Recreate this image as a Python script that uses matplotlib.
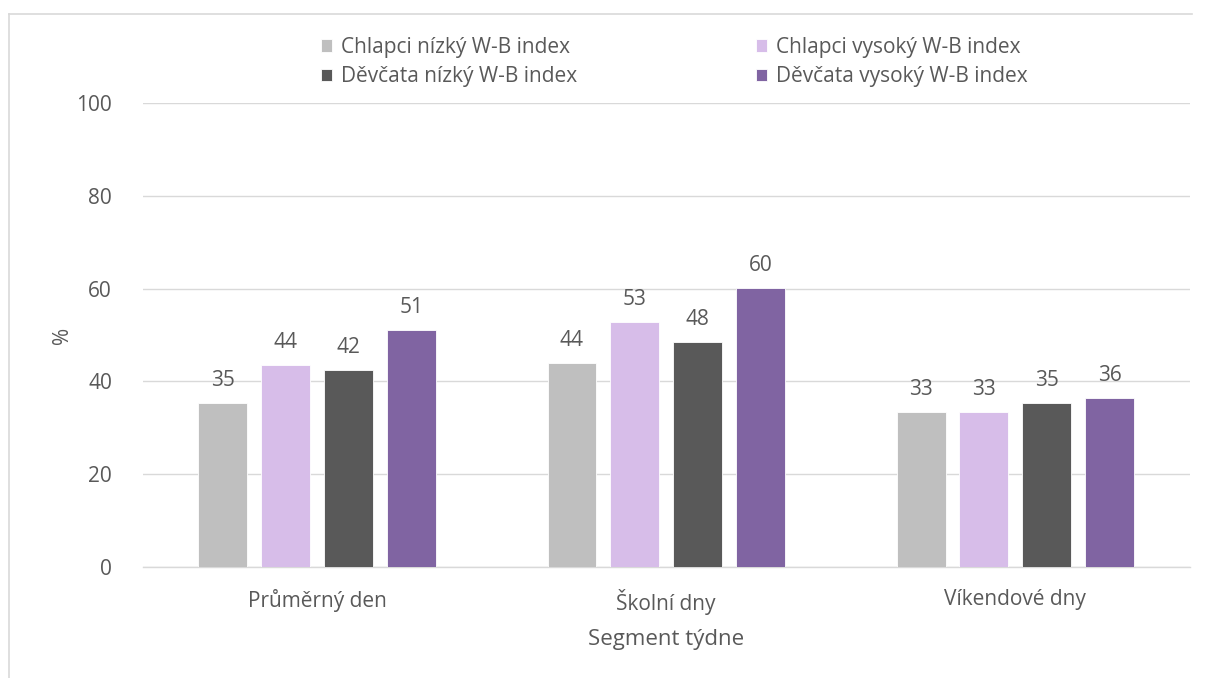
import matplotlib
matplotlib.use("Agg")
import matplotlib.pyplot as plt
import numpy as np

plt.rcParams["font.family"] = ["Open Sans", "DejaVu Sans"]

categories = ["Průměrný den", "Školní dny", "Víkendové dny"]
series_names = [
    "Chlapci nízký W-B index",
    "Chlapci vysoký W-B index",
    "Děvčata nízký W-B index",
    "Děvčata vysoký W-B index",
]
chl_nizky = [35.3, 44.0, 33.4]
chl_vysoky = [43.5, 52.8, 33.4]
dev_nizky = [42.4, 48.5, 35.3]
dev_vysoky = [51.1, 60.1, 36.4]
colors = ["#BFBFBF", "#D7BDE9", "#595959", "#8064A2"]

series = [chl_nizky, chl_vysoky, dev_nizky, dev_vysoky]
text_col = "#595959"
grid_col = "#D9D9D9"

fig = plt.figure(figsize=(12.08, 6.78), dpi=100)
ax = fig.add_axes([0.118, 0.1637, 0.867, 0.6843])

x = np.arange(len(categories))
width = 0.14
step = 0.18
handles = []
for i, (vals, name, col) in enumerate(zip(series, series_names, colors)):
    pos = x + (i - 1.5) * step
    bars = ax.bar(pos, vals, width, color=col, label=name, zorder=3,
                  edgecolor="white", linewidth=0.6)
    handles.append(bars)
    for p, v in zip(pos, vals):
        ax.text(p, v + 2.6, f"{v:.0f}", ha="center", va="bottom",
                fontsize=15, color=text_col)

ax.set_xlim(-0.5, 2.5)
ax.set_ylim(0, 100)
ax.set_yticks(range(0, 101, 20))
ax.set_xticks(x)
ax.set_xticklabels(categories)
ax.tick_params(axis="both", length=0, labelsize=15, labelcolor=text_col)
ax.tick_params(axis="x", pad=16)
ax.tick_params(axis="y", pad=22)
ax.grid(axis="y", color=grid_col, linewidth=1, zorder=0)
for s in ["top", "right", "left"]:
    ax.spines[s].set_visible(False)
ax.spines["bottom"].set_color(grid_col)
ax.spines["bottom"].set_linewidth(1)

ax.set_ylabel("%", fontsize=15, color=text_col, labelpad=2)
ax.set_xlabel("Segment týdne", fontsize=16, color=text_col, labelpad=10)

# legend: row-wise order in 2 columns
order = [0, 2, 1, 3]
leg = fig.legend([handles[i] for i in order], [series_names[i] for i in order],
                 ncol=2, loc="center", bbox_to_anchor=(0.558, 0.9085),
                 frameon=False, fontsize=15, handlelength=0.55, handleheight=0.55,
                 handletextpad=0.4, columnspacing=8.6, labelspacing=0.4)
for t in leg.get_texts():
    t.set_color(text_col)

# chart area border
fig.add_artist(plt.Line2D([0.0075, 0.0075], [0.0, 0.979], color=grid_col, linewidth=1.2))
fig.add_artist(plt.Line2D([0.0075, 0.987], [0.979, 0.979], color=grid_col, linewidth=1.2))

fig.savefig("out.png", dpi=100)
